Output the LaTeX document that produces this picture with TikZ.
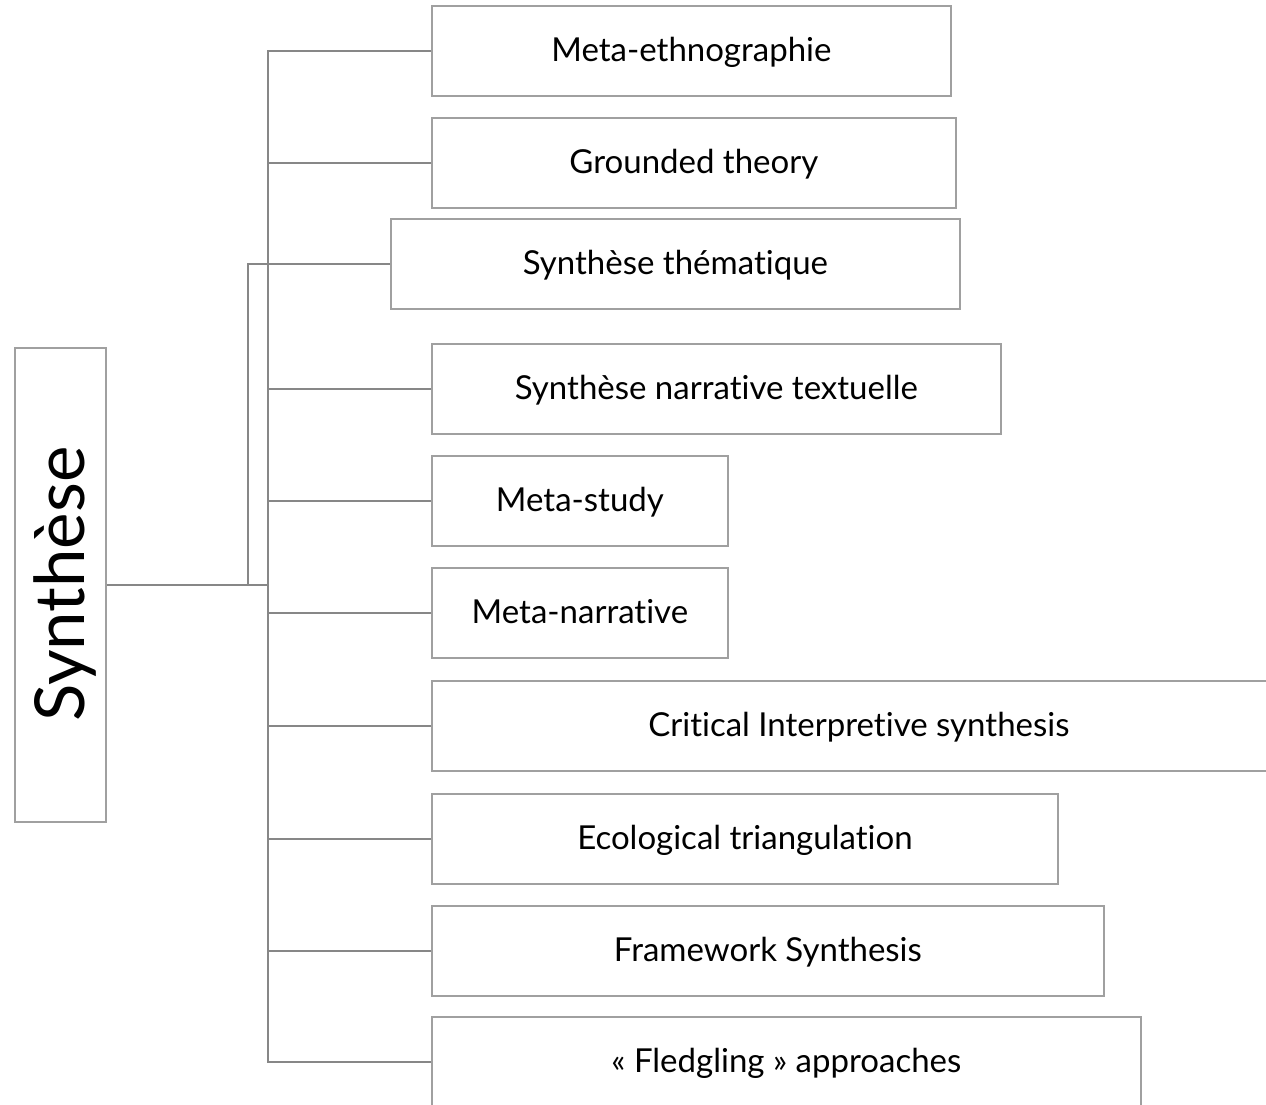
\documentclass[tikz,border=0pt]{standalone}
\usepackage{fontspec}
\setmainfont{Lato}[Ligatures=NoCommon]
\definecolor{connc}{HTML}{878787}
\definecolor{boxc}{HTML}{A0A0A0}
\begin{document}
\begin{tikzpicture}[x=1pt,y=-1pt,
  box/.style={draw=boxc, line width=1.8pt, rectangle, anchor=west, minimum height=90pt,
    inner sep=0pt, font=\fontsize{33}{38}\selectfont, text height=26pt, text depth=6pt},
  conn/.style={draw=connc, line width=1.8pt}]
\useasboundingbox (0,0) rectangle (1266,1104);
\clip (0,0) rectangle (1266,1104);
\node[draw=boxc, line width=1.8pt, minimum width=91pt, minimum height=474pt, inner sep=0pt] (root) at (60.5,585) {};
\node[rotate=90, anchor=base, inner sep=0pt, font=\fontsize{69}{74}\selectfont] (roottxt) at (84,584) {Synthèse};
\node[box, minimum width=519pt] (b1) at (431,51) {Meta-ethnographie};
\node[box, minimum width=524pt] (b2) at (431,163) {Grounded theory};
\node[box, minimum width=569pt] (b3) at (390,264) {Synthèse thématique};
\node[box, minimum width=569pt] (b4) at (431,389) {Synthèse narrative textuelle};
\node[box, minimum width=296pt] (b5) at (431,501) {Meta-study};
\node[box, minimum width=296pt] (b6) at (431,613) {Meta-narrative};
\node[box, minimum width=854pt] (b7) at (431,726) {Critical Interpretive synthesis};
\node[box, minimum width=626pt] (b8) at (431,839) {Ecological triangulation};
\node[box, minimum width=672pt] (b9) at (431,951) {Framework Synthesis};
\node[box, minimum width=709pt] (b10) at (431,1062) {« Fledgling » approaches};
\coordinate (sp) at (268,51);
\coordinate (ij) at (248,264);
\draw[conn] (b1.west) -- (b1.west -| sp) -- (b10.west -| sp) -- (b10.west);
\foreach \b in {b2,b4,b5,b6,b7,b8,b9} {\draw[conn] (\b.west) -- (\b.west -| sp);}
\draw[conn] (root.east) -- (root.east -| sp);
\draw[conn] (b3.west) -- (ij) -- (root.east -| ij);
\end{tikzpicture}
\end{document}
